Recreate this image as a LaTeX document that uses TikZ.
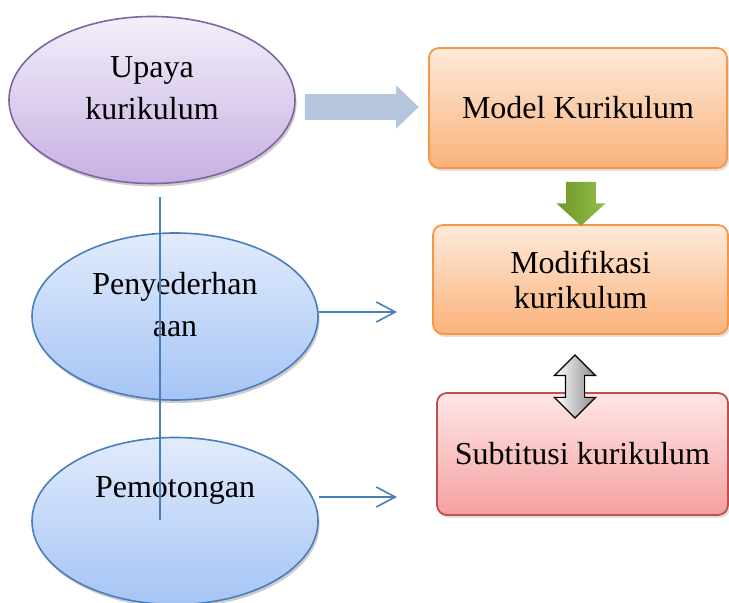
\documentclass[tikz,border=0pt]{standalone}
\usepackage{fontspec}
\setmainfont{Liberation Serif}
\usetikzlibrary{shapes.geometric,shapes.arrows,shadows,arrows.meta,positioning}
\definecolor{upayaline}{RGB}{128,100,162}
\definecolor{upayatop}{RGB}{243,239,250}
\definecolor{upayabot}{RGB}{198,176,226}
\definecolor{ovalline}{RGB}{74,126,187}
\definecolor{ovaltop}{RGB}{225,235,252}
\definecolor{ovalbot}{RGB}{166,196,245}
\definecolor{modelline}{RGB}{247,150,70}
\definecolor{modeltop}{RGB}{254,234,218}
\definecolor{modelbot}{RGB}{250,178,122}
\definecolor{subline}{RGB}{192,80,77}
\definecolor{subtop}{RGB}{255,230,230}
\definecolor{subbot}{RGB}{245,160,160}
\definecolor{widearrow}{RGB}{181,197,222}
\definecolor{greendark}{RGB}{110,150,40}
\definecolor{greenlight}{RGB}{222,238,140}
\definecolor{greenmid}{RGB}{150,190,74}
\tikzset{oval/.style={ellipse,draw=#1line,line width=0.8pt,top color=#1top,bottom color=#1bot,inner sep=0pt,minimum width=143pt,minimum height=83.5pt,align=center,text depth=12pt,font=\fontsize{16}{21}\selectfont,drop shadow={shadow xshift=0.8pt,shadow yshift=-1.5pt,fill=black!40}}}
\tikzset{kotak/.style={rectangle,rounded corners=5pt,draw=#1line,line width=0.9pt,top color=#1top,bottom color=#1bot,inner sep=0pt,align=center,font=\fontsize{16}{21}\selectfont,drop shadow={shadow xshift=1pt,shadow yshift=-1.5pt,fill=black!25}}}
\tikzset{panah/.style={draw=ovalline,line width=0.8pt,-{Straight Barb[length=9.5pt,width=10pt]}}}

\begin{document}
\begin{tikzpicture}[x=0.5pt,y=-0.5pt]
            \useasboundingbox (0,0) rectangle (729,603);
            \node (upaya) [oval=upaya] at (152,100)   {Upaya\\kurikulum};
            \node (peny)  [oval=oval]  at (175,316.5) {Penyederhan\\aan};
            \node (pemo)  [oval=oval]  [text depth=34pt] at (175,521) {Pemotongan};

            \node (model) [kotak=model] [minimum width=149pt,minimum height=60pt]   at (578,108)   {Model Kurikulum};
            \node (modif) [kotak=model] [minimum width=147.5pt,minimum height=54.5pt,font=\fontsize{16}{17.5}\selectfont] at (580.5,279.5) {Modifikasi\\kurikulum};
            \node (subt)  [kotak=sub]   [minimum width=145.5pt,minimum height=61pt] at (582.5,454) {Subtitusi kurikulum};

            \node (lebar) [single arrow,fill=widearrow,inner xsep=0pt,inner ysep=6.25pt,minimum height=57pt,single arrow head extend=4.25pt,single arrow tip angle=87] at (355,107) {};
            \node (hijau) [single arrow,shape border rotate=270,left color=greendark,middle color=greenlight,right color=greenmid,inner xsep=7.25pt,inner ysep=0pt,minimum height=22pt,single arrow head extend=4.75pt,single arrow tip angle=95] at (581,197) {};
            \node (dua)   [double arrow,shape border rotate=90,draw=black,line width=0.6pt,left color=white,right color=black!45,inner xsep=4.5pt,inner ysep=0pt,minimum height=31.5pt,double arrow head extend=5.5pt,double arrow tip angle=90] at (575,386.5) {};

            \coordinate (t1) at (397,312);
            \coordinate (t2) at (397,497);
            \draw [panah] (peny.east |- t1) -- (t1);
            \draw [panah] (pemo.east |- t2) -- (t2);

            \coordinate (vatas) at (160,197);
            \coordinate (vbawah) at (160,520);
            \draw [ovalline,line width=1pt] (vatas) -- (vbawah);
        \end{tikzpicture}
\end{document}
